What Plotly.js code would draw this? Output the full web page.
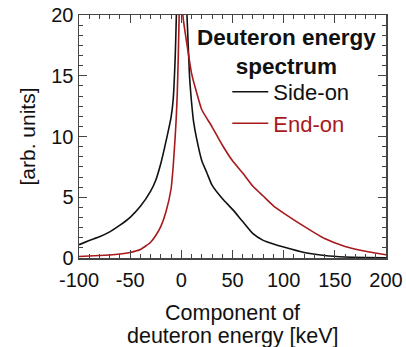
<!DOCTYPE html>
<html>
<head>
<meta charset="utf-8">
<script src="https://cdn.plot.ly/plotly-3.0.1.min.js"></script>
<style>
html,body{margin:0;padding:0;background:#fff;}
#chart{width:406px;height:347px;}
</style>
</head>
<body>
<div id="chart"></div>
<script>
// Side-on spectrum (black)
const sideX = [-100,-90,-80,-70,-60,-50,-40,-30,-25,-20,-15,-10,-8,-6,-5,-4,0,4,5,6,8,10,12,15,20,25,30,40,50,60,70,80,90,100,120,140,160,180,200];
const sideY = [1.1,1.45,1.75,2.15,2.7,3.35,4.25,5.5,6.4,7.8,9.6,11.6,13.0,16.5,19.5,23,40,24,21,19,15,12.8,11.2,9.8,8.0,7.0,6.0,4.9,4.0,3.0,2.0,1.45,1.15,0.9,0.45,0.2,0.08,0.04,0.02];

// End-on spectrum (red)
const endX = [-100,-90,-80,-70,-60,-50,-40,-30,-25,-20,-15,-10,-8,-6,-5,-4,-3,-2,-1,0,1,2,4,6,8,10,15,20,30,40,50,60,70,80,90,100,120,140,160,180,200];
const endY = [0.12,0.16,0.2,0.25,0.33,0.46,0.7,1.3,1.85,2.6,3.8,5.7,7.5,10,11.5,13.5,16.5,20.5,24,22,20.5,19.6,18.4,17.3,16.2,15.2,13.6,12.2,10.8,9.3,8.0,7.0,5.9,5.1,4.3,3.7,2.6,1.6,0.95,0.55,0.27];

const seriesNames = ['Side-on', 'End-on'];
const legendTitle = 'Deuteron energy<br>spectrum';
const xTitleLines = ['Component of', 'deuteron energy [keV]'];
const yTitle = '[arb. units]';
const xTickVals = [-100, -50, 0, 50, 100, 150, 200];
const xTickText = ['-100', '-50', '0', '50', '100', '150', '200'];
const yTickVals = [0, 5, 10, 15, 20];
const yTickText = ['0', '5', '10', '15', '20'];

const FONT = 'Arial, "Liberation Sans", sans-serif';
const RED = '#a8191b';

const traces = [
  {x: sideX, y: sideY, mode: 'lines', name: seriesNames[0],
   line: {color: '#111111', width: 1.6, shape: 'spline', smoothing: 0.5}},
  {x: endX, y: endY, mode: 'lines', name: '<span style="color:' + RED + '">' + seriesNames[1] + '</span>',
   line: {color: RED, width: 1.6, shape: 'spline', smoothing: 0.5}}
];

const axisCommon = {
  showgrid: false, zeroline: false, showline: true, linecolor: '#444', linewidth: 1.5,
  mirror: 'ticks', ticks: 'inside', ticklen: 8, tickwidth: 1.2, tickcolor: '#444',
  tickfont: {family: FONT, size: 20, color: '#111'}
};

const xTitleFont = {family: FONT, size: 21.5, color: '#111'};

const layout = {
  width: 406, height: 347,
  margin: {l: 79, r: 20, t: 15, b: 89},
  paper_bgcolor: '#fff', plot_bgcolor: '#fff',
  font: {family: FONT, color: '#111'},
  showlegend: true,
  legend: {
    x: 0.483, y: 0.77, xanchor: 'left', yanchor: 'top',
    bgcolor: 'rgba(0,0,0,0)', borderwidth: 0, itemwidth: 36,
    font: {family: FONT, size: 22, color: '#111'},
    tracegroupgap: 0
  },
  xaxis: Object.assign({}, axisCommon, {
    range: [-100, 200], tickvals: xTickVals, ticktext: xTickText, ticklabelstandoff: 3,
    minor: {dtick: 10, ticklen: 4, tickwidth: 1, tickcolor: '#444', ticks: 'inside'}
  }),
  yaxis: Object.assign({}, axisCommon, {
    range: [0, 20], tickvals: yTickVals, ticktext: yTickText,
    minor: {tick0: 0, dtick: 5/6, ticklen: 4, tickwidth: 1, tickcolor: '#444', ticks: 'inside'},
    title: {text: yTitle, font: {family: FONT, size: 21, color: '#111'}, standoff: 10}
  }),
  annotations: [
    {xref: 'paper', yref: 'paper', x: 0.676, y: 0.966, xanchor: 'center', yanchor: 'top',
     text: '<b>' + legendTitle + '</b>', showarrow: false, align: 'center',
     font: {family: FONT, size: 22.5, color: '#111'}},
    {xref: 'paper', yref: 'paper', x: 0.5, y: -0.228, xanchor: 'center', yanchor: 'middle',
     text: xTitleLines[0], showarrow: false, font: xTitleFont},
    {xref: 'paper', yref: 'paper', x: 0.5, y: -0.322, xanchor: 'center', yanchor: 'middle',
     text: xTitleLines[1], showarrow: false, font: xTitleFont}
  ]
};

Plotly.newPlot('chart', traces, layout, {displayModeBar: false, staticPlot: true});
</script>
</body>
</html>
